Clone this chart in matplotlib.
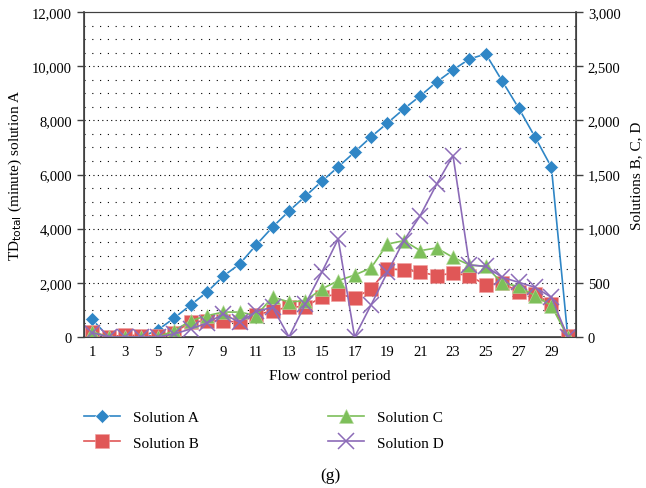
import numpy as np
import matplotlib
matplotlib.use("Agg")
from matplotlib import pyplot as plt
from matplotlib.ticker import FuncFormatter, MultipleLocator

plt.rcParams['font.family'] = ['Liberation Serif', 'DejaVu Serif']

# ==== data ====
periods = list(range(1, 31))
sol_a = [650, 0, 0, 0, 260, 700, 1180, 1660, 2250, 2700,
         3400, 4060, 4650, 5200, 5750, 6280, 6830, 7385, 7900, 8420,
         8900, 9415, 9860, 10265, 10450, 9450, 8455, 7385, 6270, 0]
sol_b = [50, 0, 20, 10, 10, 40, 138, 150, 150, 135,
         203, 243, 277, 280, 369, 397, 360, 443, 628, 621,
         600, 566, 590, 566, 480, 498, 418, 397, 305, 12]
sol_c = [50, 0, 0, 0, 0, 58, 150, 197, 230, 230,
         197, 369, 323, 335, 443, 520, 572, 637, 858, 889,
         797, 822, 735, 665, 652, 498, 468, 381, 289, 0]
sol_d = [40, 0, 0, 0, 0, 28, 74, 129, 212, 135,
         237, 274, 0, 305, 597, 905, 0, 295, 597, 889,
         1120, 1410, 1674, 665, 652, 551, 505, 459, 366, 0]

c_a = '#2f86c6'
c_b = '#e05757'
c_c = '#7dbf5a'
c_d = '#8c6bb8'

fig = plt.figure(figsize=(6.46, 4.89), dpi=100)
ax = fig.add_axes([84/646, 1 - 338/489, (576-84)/646, (338-13)/489])
ax2 = ax.twinx()

x = np.arange(len(periods))
la, = ax.plot(x, sol_a, color=c_a, lw=1.2, marker='D', ms=7.5, mec='white', mew=0.4, label='Solution A')
lb, = ax2.plot(x, sol_b, color=c_b, lw=1.2, marker='s', ms=9.5, mec='#f0a0a0', mew=0.4, label='Solution B')
lc, = ax2.plot(x, sol_c, color=c_c, lw=1.2, marker='^', ms=10, mec='#b8dca0', mew=0.4, label='Solution C')
ld, = ax2.plot(x, sol_d, color=c_d, lw=1.2, marker='x', ms=11, mew=1.1, label='Solution D')

ax.set_xlim(-0.5, 29.5)
ax.set_ylim(0, 12000)
ax2.set_ylim(0, 3000)
ax.set_xticks(x[::2])
ax.set_xticklabels([str(p) for p in periods[::2]])
ax.tick_params(axis='x', length=0, pad=6)

ax.yaxis.set_major_locator(MultipleLocator(2000))
ax2.yaxis.set_major_locator(MultipleLocator(500))
fmt = FuncFormatter(lambda v, p: f'{int(v):,}')
ax.yaxis.set_major_formatter(fmt)
ax2.yaxis.set_major_formatter(fmt)
ax.tick_params(axis='y', direction='out', length=5, width=1, color='#404040', labelsize=10.5)
ax2.tick_params(axis='y', direction='out', length=5, width=1, color='#404040', labelsize=10.5)
ax.tick_params(axis='x', labelsize=10.5)

# dotted grid
for v in np.arange(500, 12000, 500):
    ls = (0, (1, 3)) if v % 2000 == 0 else (0, (1, 6))
    ax.axhline(v, color='black', lw=0.8, ls=ls, zorder=0)

for s in ['left', 'right', 'bottom', 'top']:
    ax.spines[s].set_color('#404040')
    ax2.spines[s].set_color('#404040')
ax.spines['left'].set_linewidth(1.2)
ax2.spines['right'].set_linewidth(1.2)
ax.spines['bottom'].set_linewidth(1.2)

ax.set_ylabel(r'TD$_{\mathrm{total}}$ (minute) solution A', fontsize=11, labelpad=6)
ax2.set_ylabel('Solutions B, C, D', fontsize=11, labelpad=7)
ax.set_xlabel('Flow control period', fontsize=11, labelpad=8)

fig.legend(handles=[la, lb, lc, ld], ncol=2, loc='upper left',
           bbox_to_anchor=(70/646, 1 - 398/489), frameon=False, fontsize=11,
           handlelength=2.35, columnspacing=8.4, labelspacing=0.75, handletextpad=0.9)

fig.text(330/646, 1 - 476/489, '(g)', ha='center', va='center', fontsize=12.5)

fig.savefig('out.png', dpi=100)
